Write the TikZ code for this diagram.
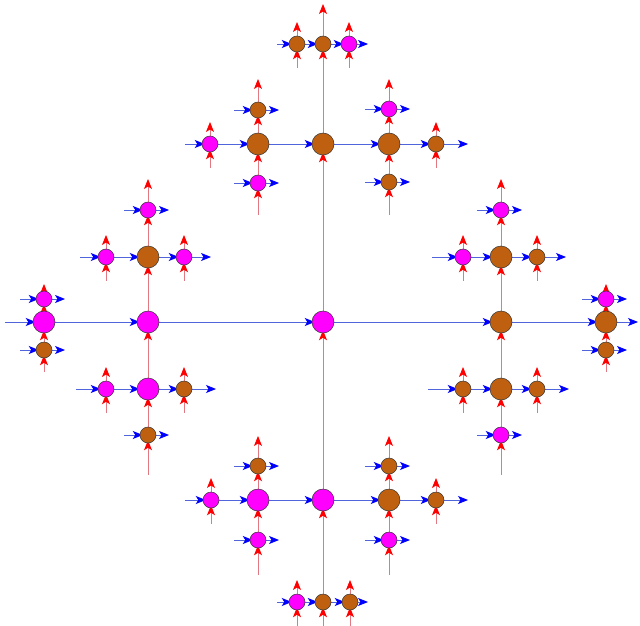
\documentclass[tikz,border=0pt]{standalone}
\usetikzlibrary{arrows.meta}
\definecolor{brn}{RGB}{190,96,16}
\definecolor{mag}{RGB}{255,0,255}
\definecolor{hblue}{RGB}{0,0,255}
\definecolor{vred}{RGB}{255,0,0}
\definecolor{hline}{RGB}{80,100,220}
\definecolor{vline}{RGB}{225,120,130}
\pgfdeclarelayer{bg}
\pgfsetlayers{bg,main}
\tikzset{
  big/.style={circle,draw=black!80,line width=0.5pt,minimum size=22pt,inner sep=0pt},
  small/.style={big,minimum size=16pt},
  mg/.style={fill=mag},
  br/.style={fill=brn},
  hl/.style={draw=hline,line width=0.9pt,-{Stealth[length=10pt,width=8pt,inset=2.5pt,color=hblue,fill=hblue]}},
  vl/.style={draw=vline,line width=0.9pt,-{Stealth[length=10pt,width=8pt,inset=2.5pt,color=vred,fill=vred]}},
  into/.style={shorten >=-3pt}
}
\newcommand{\hseg}[2]{\draw[hl,into] (#1) -- (#2);}
\newcommand{\hfin}[2]{\draw[hl] (#1) -- (#2);}
\newcommand{\vseg}[2]{\draw[vl,into] (#1) -- (#2);}
\newcommand{\vfin}[2]{\draw[vl] (#1) -- (#2);}
\newcommand{\hinout}[1]{%
  \coordinate (#1-hi) at ([xshift=-24pt]#1.center);
  \coordinate (#1-ho) at ([xshift=21pt]#1.center);
  \draw[hl,into] (#1-hi) -- (#1);
  \draw[hl] (#1) -- (#1-ho);}
\newcommand{\vinout}[1]{%
  \coordinate (#1-vi) at ([yshift=-24pt]#1.center);
  \coordinate (#1-vo) at ([yshift=22pt]#1.center);
  \draw[vl,into] (#1-vi) -- (#1);
  \draw[vl] (#1) -- (#1-vo);}
\begin{document}
\begin{tikzpicture}[x=1pt,y=-1pt]
\useasboundingbox (0,0) rectangle (640,626);
% ---------- nodes ----------
\node[big,mg] (c) at (323,322) {};
% top
\node[big,br] (t) at (323,144) {};
\node[big,br] (tL) at (258,144) {};
\node[big,br] (tR) at (389,144) {};
\node[small,mg] (tLL) at (210,144) {};
\node[small,br] (tRR) at (436,144) {};
\node[small,br] (tLu) at (258,110) {};
\node[small,mg] (tLd) at (258,183) {};
\node[small,mg] (tRu) at (389,109) {};
\node[small,br] (tRd) at (389,182) {};
\node[small,br] (tt) at (323,44) {};
\node[small,br] (ttL) at (297,44) {};
\node[small,mg] (ttR) at (349,44) {};
% bottom
\node[big,mg] (b) at (323,500) {};
\node[big,mg] (bL) at (258,500) {};
\node[big,br] (bR) at (389,500) {};
\node[small,mg] (bLL) at (211,500) {};
\node[small,br] (bRR) at (436,500) {};
\node[small,br] (bLu) at (258,466) {};
\node[small,mg] (bLd) at (258,540) {};
\node[small,br] (bRu) at (389,466) {};
\node[small,mg] (bRd) at (389,540) {};
\node[small,br] (bb) at (323,602) {};
\node[small,mg] (bbL) at (297,602) {};
\node[small,br] (bbR) at (350,602) {};
% left
\node[big,mg] (l) at (148,322) {};
\node[big,br] (lU) at (148,257) {};
\node[big,mg] (lD) at (148,389) {};
\node[small,mg] (lUU) at (148,210) {};
\node[small,br] (lDD) at (148,435) {};
\node[small,mg] (lUl) at (106,257) {};
\node[small,mg] (lUr) at (184,257) {};
\node[small,mg] (lDl) at (106,389) {};
\node[small,br] (lDr) at (184,389) {};
\node[big,mg] (ll) at (44,322) {};
\node[small,mg] (llU) at (44,299) {};
\node[small,br] (llD) at (44,350) {};
% right
\node[big,br] (r) at (501,322) {};
\node[big,br] (rU) at (501,257) {};
\node[big,br] (rD) at (501,389) {};
\node[small,mg] (rUU) at (501,210) {};
\node[small,mg] (rDD) at (501,435) {};
\node[small,mg] (rUl) at (463,257) {};
\node[small,br] (rUr) at (537,257) {};
\node[small,br] (rDl) at (463,389) {};
\node[small,br] (rDr) at (537,389) {};
\node[big,br] (rr) at (606,322) {};
\node[small,mg] (rrU) at (606,299) {};
\node[small,br] (rrD) at (606,350) {};
% ---------- free ends ----------
\coordinate (hs0) at (5,322);   \coordinate (he0) at (638,322);
\coordinate (hs1) at (185,144); \coordinate (he1) at (468,144);
\coordinate (hs2) at (185,500); \coordinate (he2) at (468,500);
\coordinate (hs3) at (80,257);  \coordinate (he3) at (211,257);
\coordinate (hs4) at (76,389);  \coordinate (he4) at (216,389);
\coordinate (hs5) at (432,257); \coordinate (he5) at (566,257);
\coordinate (hs6) at (428,389); \coordinate (he6) at (569,389);
\coordinate (hs7) at (277,44);  \coordinate (he7) at (368,44);
\coordinate (hs8) at (277,602); \coordinate (he8) at (368,602);
\coordinate (vs0) at (323,626); \coordinate (ve0) at (323,4);
\coordinate (vs1) at (258,215); \coordinate (ve1) at (258,79);
\coordinate (vs2) at (389,215); \coordinate (ve2) at (389,79);
\coordinate (vs3) at (258,575); \coordinate (ve3) at (258,436);
\coordinate (vs4) at (389,575); \coordinate (ve4) at (389,436);
\coordinate (vs5) at (148,475); \coordinate (ve5) at (148,179);
\coordinate (vs6) at (501,475); \coordinate (ve6) at (501,179);
\coordinate (vs7) at (44,372);  \coordinate (ve7) at (44,284);
\coordinate (vs8) at (606,372); \coordinate (ve8) at (606,284);
\begin{pgfonlayer}{bg}
% horizontal chains
\hseg{hs0}{ll}\hseg{ll}{l}\hseg{l}{c}\hseg{c}{r}\hseg{r}{rr}\hfin{rr}{he0}
\hseg{hs1}{tLL}\hseg{tLL}{tL}\hseg{tL}{t}\hseg{t}{tR}\hseg{tR}{tRR}\hfin{tRR}{he1}
\hseg{hs2}{bLL}\hseg{bLL}{bL}\hseg{bL}{b}\hseg{b}{bR}\hseg{bR}{bRR}\hfin{bRR}{he2}
\hseg{hs3}{lUl}\hseg{lUl}{lU}\hseg{lU}{lUr}\hfin{lUr}{he3}
\hseg{hs4}{lDl}\hseg{lDl}{lD}\hseg{lD}{lDr}\hfin{lDr}{he4}
\hseg{hs5}{rUl}\hseg{rUl}{rU}\hseg{rU}{rUr}\hfin{rUr}{he5}
\hseg{hs6}{rDl}\hseg{rDl}{rD}\hseg{rD}{rDr}\hfin{rDr}{he6}
\hseg{hs7}{ttL}\hseg{ttL}{tt}\hseg{tt}{ttR}\hfin{ttR}{he7}
\hseg{hs8}{bbL}\hseg{bbL}{bb}\hseg{bb}{bbR}\hfin{bbR}{he8}
% vertical chains
\vseg{vs0}{bb}\vseg{bb}{b}\vseg{b}{c}\vseg{c}{t}\vseg{t}{tt}\vfin{tt}{ve0}
\vseg{vs1}{tLd}\vseg{tLd}{tL}\vseg{tL}{tLu}\vfin{tLu}{ve1}
\vseg{vs2}{tRd}\vseg{tRd}{tR}\vseg{tR}{tRu}\vfin{tRu}{ve2}
\vseg{vs3}{bLd}\vseg{bLd}{bL}\vseg{bL}{bLu}\vfin{bLu}{ve3}
\vseg{vs4}{bRd}\vseg{bRd}{bR}\vseg{bR}{bRu}\vfin{bRu}{ve4}
\vseg{vs5}{lDD}\vseg{lDD}{lD}\vseg{lD}{l}\vseg{l}{lU}\vseg{lU}{lUU}\vfin{lUU}{ve5}
\vseg{vs6}{rDD}\vseg{rDD}{rD}\vseg{rD}{r}\vseg{r}{rU}\vseg{rU}{rUU}\vfin{rUU}{ve6}
\vseg{vs7}{llD}\vseg{llD}{ll}\vseg{ll}{llU}\vfin{llU}{ve7}
\vseg{vs8}{rrD}\vseg{rrD}{rr}\vseg{rr}{rrU}\vfin{rrU}{ve8}
% short horizontal in/out arrows
\hinout{tLu}\hinout{tLd}\hinout{tRu}\hinout{tRd}
\hinout{bLu}\hinout{bLd}\hinout{bRu}\hinout{bRd}
\hinout{lUU}\hinout{lDD}\hinout{rUU}\hinout{rDD}
\hinout{llU}\hinout{llD}\hinout{rrU}\hinout{rrD}
% short vertical in/out arrows
\vinout{tLL}\vinout{tRR}\vinout{bLL}\vinout{bRR}
\vinout{lUl}\vinout{lUr}\vinout{lDl}\vinout{lDr}
\vinout{rUl}\vinout{rUr}\vinout{rDl}\vinout{rDr}
\vinout{ttL}\vinout{ttR}\vinout{bbL}\vinout{bbR}
\end{pgfonlayer}
\end{tikzpicture}
\end{document}
